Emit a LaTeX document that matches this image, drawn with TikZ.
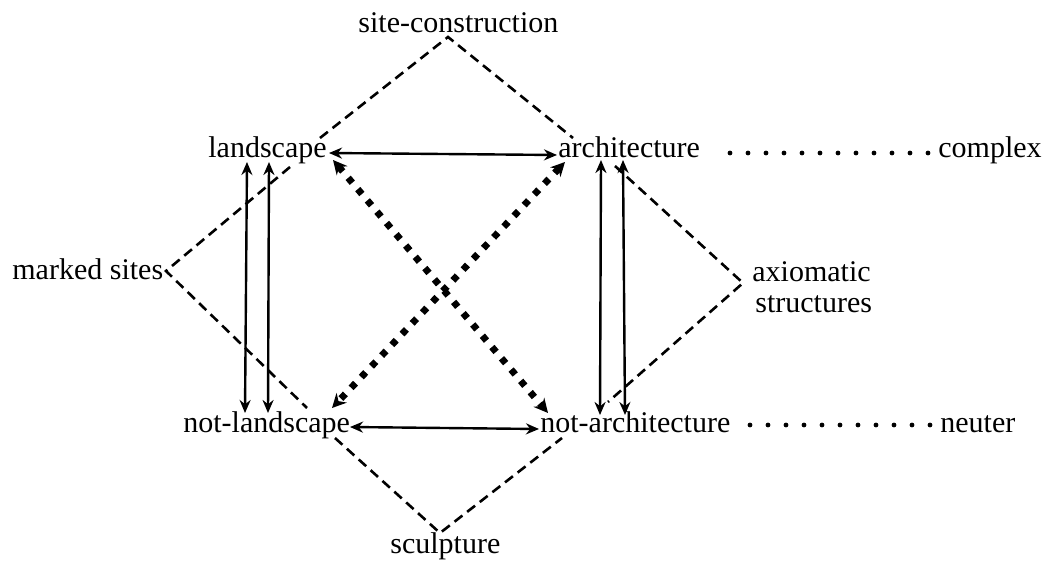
\documentclass[tikz,border=0pt]{standalone}
\usepackage{fontspec}
\setmainfont{Liberation Serif}
\usetikzlibrary{arrows.meta}
\begin{document}
\begin{tikzpicture}[x=0.5pt,y=-0.5pt,
  lbl/.style={anchor=base west,inner sep=0pt,font=\fontsize{15pt}{15pt}\selectfont},
  dsh/.style={line width=1.3pt,dash pattern=on 5pt off 3pt},
  arr/.style={line width=1.2pt,{Stealth[length=6.5pt,width=5.5pt]}-{Stealth[length=6.5pt,width=5.5pt]}},
  thick dots/.style={line width=3.4pt,dash pattern=on 3.2pt off 4.2pt,{Stealth[length=7pt,width=7pt]}-{Stealth[length=7pt,width=7pt]}},
  dotline/.style={line width=2.4pt,line cap=round,dash pattern=on 0pt off 9pt}]
\useasboundingbox (0,0) rectangle (1045,561);
% labels
\node[lbl] (sc) at (358,33) {site-construction};
\node[lbl] (ls) at (208,158) {landscape};
\node[lbl] (ar) at (558,158) {architecture};
\node[lbl] (cx) at (938,158) {complex};
\node[lbl] (ms) at (12,280) {marked sites};
\node[lbl] (ax1) at (752,282) {axiomatic};
\node[lbl] (ax2) at (755,313) {structures};
\node[lbl] (nl) at (183,432) {not-landscape};
\node[lbl] (na) at (540,433) {not-architecture};
\node[lbl] (ne) at (940,433) {neuter};
\node[lbl] (sp) at (390,553) {sculpture};
% apex and end coordinates
\coordinate (scA) at (448,37);
\coordinate (scL) at (320,138);
\coordinate (scR) at (573,138);
\coordinate (msA) at (166,271);
\coordinate (msU) at (290,167);
\coordinate (msD) at (307,408);
\coordinate (axA) at (743,283);
\coordinate (axU) at (615,166);
\coordinate (axD) at (608,402);
\coordinate (spA) at (440,533);
\coordinate (spL) at (335,438);
\coordinate (spR) at (562,438);
% dashed
\draw[dsh] (scL) -- (scA) -- (scR);
\draw[dsh] (msU) -- (msA) -- (msD);
\draw[dsh] (axU) -- (axA) -- (axD);
\draw[dsh] (spL) -- (spA) -- (spR);
% horizontal arrows
\coordinate (lsE) at (329,153);
\coordinate (arW) at (557,155);
\coordinate (nlE) at (350,427);
\coordinate (naW) at (539,429);
\draw[arr] (lsE) -- (arW);
\draw[arr] (nlE) -- (naW);
% vertical arrows
\coordinate (v1t) at (247,162); \coordinate (v1b) at (245,413);
\coordinate (v2t) at (269,162); \coordinate (v2b) at (268,413);
\coordinate (v3t) at (601,160); \coordinate (v3b) at (600,415);
\coordinate (v4t) at (623,160); \coordinate (v4b) at (625,415);
\draw[arr] (v1t) -- (v1b);
\draw[arr] (v2t) -- (v2b);
\draw[arr] (v3t) -- (v3b);
\draw[arr] (v4t) -- (v4b);
% thick dotted diagonals
\coordinate (lsSE) at (333,160);
\coordinate (naNW) at (548,413);
\coordinate (arSW) at (565,162);
\coordinate (nlNE) at (332,408);
\draw[thick dots] (lsSE) -- (naNW);
\draw[thick dots] (arSW) -- (nlNE);
% dotted lines
\coordinate (cxd1) at (730,153); \coordinate (cxd2) at (930,153);
\coordinate (ned1) at (750,425); \coordinate (ned2) at (932,425);
\draw[dotline] (cxd1) -- (cxd2);
\draw[dotline] (ned1) -- (ned2);
\end{tikzpicture}
\end{document}
